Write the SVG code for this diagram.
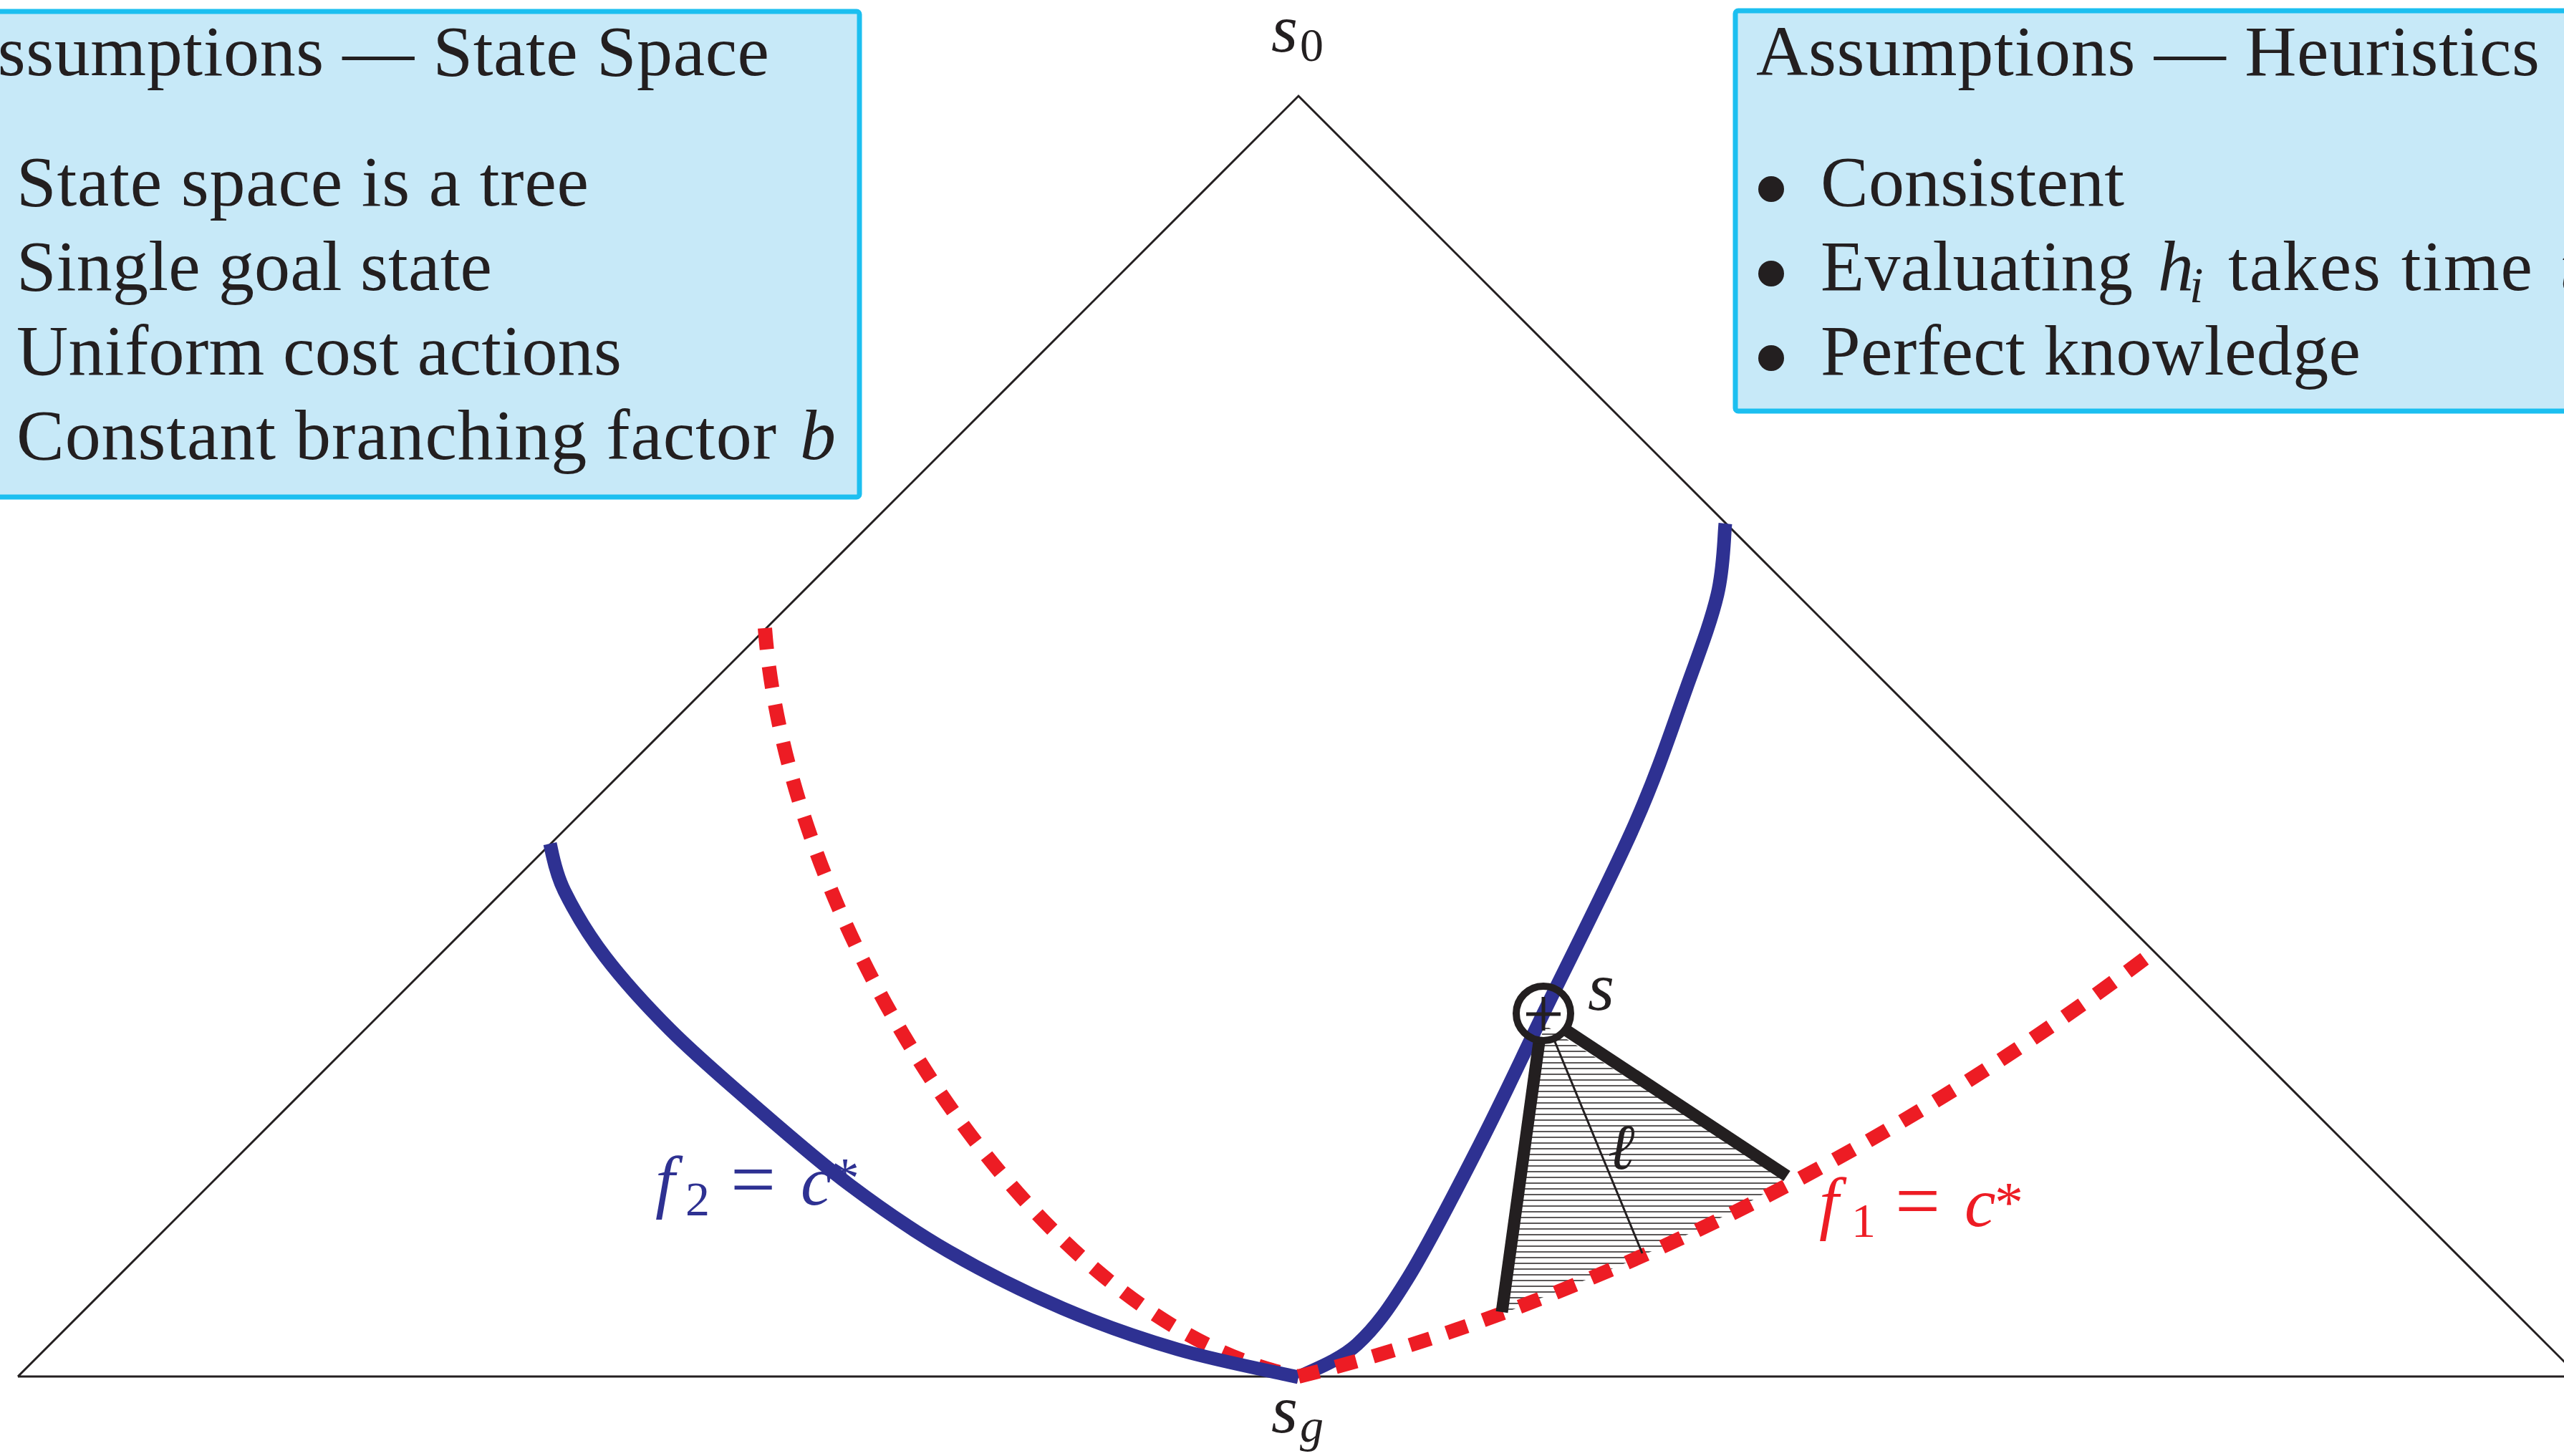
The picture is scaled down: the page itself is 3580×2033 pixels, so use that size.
<svg xmlns="http://www.w3.org/2000/svg" width="3580" height="2033" viewBox="0 0 3580 2033">
<style>
.box{fill:#C7E9F8;stroke:#1CBFF0;stroke-width:7}
.txt{font-family:"Liberation Serif","DejaVu Serif",serif;font-size:100px;fill:#231F20}
.it{font-style:italic}
.tri{fill:none;stroke:#231F20;stroke-width:3}
.blue{fill:none;stroke:#2E3192;stroke-width:19}
.red{fill:none;stroke:#ED1C24;stroke-width:20;stroke-dasharray:30 24}
.cone{stroke:#231F20;stroke-width:17;fill:none}
.thin{stroke:#231F20;stroke-width:3;fill:none}
.bl{fill:#2E3192}
.rd{fill:#ED1C24}
</style>
<defs>
<pattern id="hatch" patternUnits="userSpaceOnUse" width="40" height="8">
<line x1="0" y1="4" x2="40" y2="4" stroke="#231F20" stroke-width="1.6"/>
</pattern>
</defs>
<rect width="3580" height="2033" fill="#FFFFFF"/>

<g id="box-state-space">
<rect class="box" x="-100" y="16" width="1300" height="678" rx="4"/>
<text class="txt" x="-76" y="105" textLength="1150">Assumptions — State Space</text>
<text class="txt" x="23" y="287" textLength="799">State space is a tree</text>
<text class="txt" x="23" y="405" textLength="664">Single goal state</text>
<text class="txt" x="23" y="523" textLength="845">Uniform cost actions</text>
<text class="txt" x="23" y="641" textLength="1061">Constant branching factor</text>
<text class="txt it" x="1117" y="641">b</text>
</g>

<g id="box-heuristics">
<rect class="box" x="2423" y="15" width="1200" height="559" rx="4"/>
<text class="txt" x="2452" y="105" textLength="1094">Assumptions — Heuristics</text>
<circle cx="2473" cy="264" r="18" fill="#231F20"/>
<circle cx="2473" cy="382" r="18" fill="#231F20"/>
<circle cx="2473" cy="500" r="18" fill="#231F20"/>
<text class="txt" x="2542" y="287" textLength="424">Consistent</text>
<text class="txt" x="2542" y="405" textLength="436">Evaluating</text>
<text class="txt it" x="3013" y="405">h</text>
<text class="txt it" x="3057" y="422" style="font-size:70px">i</text>
<text class="txt" x="3111" y="405" textLength="425">takes time</text>
<text class="txt it" x="3574" y="405">t</text>
<text class="txt" x="2542" y="523" textLength="754">Perfect knowledge</text>
</g>

<g id="state-space">
<path class="tri" d="M25,1922 L1813,134 L3603,1924 M25,1922 L3580,1922"/>
</g>

<g id="label-s0">
<text class="txt it" x="1775" y="72" style="font-size:95px">s</text>
<text class="txt" x="1815" y="85" style="font-size:66px">0</text>
</g>
<g id="label-sg">
<text class="txt it" x="1775" y="2000" style="font-size:95px">s</text>
<text class="txt it" x="1815" y="2013" style="font-size:66px">g</text>
</g>

<g id="label-f2">
<text class="txt it bl" x="915" y="1682" style="font-size:98px">f</text>
<text class="txt bl" x="957" y="1697" style="font-size:68px">2</text>
<text class="txt bl" x="1020" y="1684" style="font-size:112px">=</text>
<text class="txt it bl" x="1118" y="1682" style="font-size:98px">c</text>
<text class="txt bl" x="1160" y="1672" style="font-size:80px">*</text>
</g>

<g id="label-f1">
<text class="txt it rd" x="2540" y="1712" style="font-size:98px">f</text>
<text class="txt rd" x="2585" y="1727" style="font-size:68px">1</text>
<text class="txt rd" x="2646" y="1714" style="font-size:112px">=</text>
<text class="txt it rd" x="2743" y="1712" style="font-size:98px">c</text>
<text class="txt rd" x="2785" y="1706" style="font-size:80px">*</text>
</g>

<g id="cone-hatch">
<polygon points="2155,1430 2097,1835 2143,1816 2200,1793 2262,1767 2322,1740 2383,1711 2440,1680 2495,1648" fill="url(#hatch)"/>
</g>

<g id="connectors">
<path id="f1-left" class="red" d="M1068,877 C1100,1300 1450,1850 1813,1922"/>
<path id="f2-left" class="blue" d="M1813,1923 C1784.8,1916.5 1698.8,1900 1644,1884 C1589.2,1868 1537.3,1849.8 1484,1827 C1430.7,1804.2 1373.5,1775.7 1324,1747 C1274.5,1718.3 1232.7,1689.3 1187,1655 C1141.3,1620.7 1091.8,1577.2 1050,1541 C1008.2,1504.8 970.2,1472.2 936,1438 C901.8,1403.8 869.7,1368.3 845,1336 C820.3,1303.7 801,1270.3 788,1244 C775,1217.7 770.5,1189 768,1178"/>
<path id="f2-right" class="blue" d="M1813,1923 C1826.7,1915.3 1869.2,1900.7 1895,1877 C1920.8,1853.3 1939.5,1827.5 1968,1781 C1996.5,1734.5 2034.8,1659 2066,1598 C2097.2,1537 2118.8,1489.7 2155,1415 C2191.2,1340.3 2249.7,1225.8 2283,1150 C2316.3,1074.2 2335.8,1013.3 2355,960 C2374.2,906.7 2389,868.2 2398,830 C2407,791.8 2407.2,747.5 2409,731"/>
<path id="f1-right" class="red" d="M1813,1922 C2150,1840 2600,1640 3007,1329"/>
<line class="cone" x1="2150" y1="1448" x2="2097" y2="1832"/>
<line class="cone" x1="2183" y1="1436" x2="2495" y2="1642"/>
<line class="thin" x1="2170" y1="1452" x2="2293" y2="1750"/>
</g>

<g id="node-s">
<circle cx="2155" cy="1415" r="38" fill="none" stroke="#231F20" stroke-width="10"/>
<path d="M2131,1416 H2179 M2155,1392 V1439" stroke="#231F20" stroke-width="5" fill="none"/>
<text class="txt it" x="2217" y="1410" style="font-size:95px">s</text>
</g>

<g id="label-l">
<text class="txt it" x="2245" y="1632" style="font-size:90px">ℓ</text>
</g>
</svg>
